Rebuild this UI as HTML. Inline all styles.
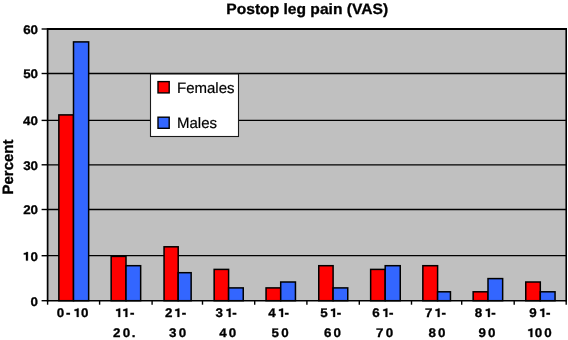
<!DOCTYPE html>
<html><head><meta charset="utf-8"><style>
html,body{margin:0;padding:0;background:#fff;}
svg{display:block;}
svg{will-change:transform;}
.one{fill:#000;stroke:#000;stroke-width:0.3px;stroke-linejoin:round;}
text{font-family:"Liberation Sans",sans-serif;fill:#000;text-rendering:geometricPrecision;}
.yl{font-size:12.5px;font-weight:bold;}
.xl{font-size:12.5px;font-weight:bold;stroke:#000;stroke-width:0.3px;}
.lg{font-size:15px;stroke:#000;stroke-width:0.2px;}
.tt{font-size:15px;font-weight:bold;stroke:#000;stroke-width:0.3px;}
.yt{font-size:15px;font-weight:bold;stroke:#000;stroke-width:0.3px;}
</style></head><body>
<svg width="568" height="340" viewBox="0 0 568 340">
<rect x="47.6" y="29.0" width="518.60" height="271.70" fill="#c0c0c0"/>
<line x1="47.6" x2="566.2" y1="255.70" y2="255.70" stroke="#000" stroke-width="1.3"/>
<line x1="47.6" x2="566.2" y1="209.50" y2="209.50" stroke="#000" stroke-width="1.3"/>
<line x1="47.6" x2="566.2" y1="164.80" y2="164.80" stroke="#000" stroke-width="1.3"/>
<line x1="47.6" x2="566.2" y1="120.40" y2="120.40" stroke="#000" stroke-width="1.3"/>
<line x1="47.6" x2="566.2" y1="73.50" y2="73.50" stroke="#000" stroke-width="1.3"/>
<rect x="58.85" y="114.90" width="14.65" height="185.80" fill="#ff0000" stroke="#000" stroke-width="1.5"/>
<rect x="73.50" y="41.90" width="15.15" height="258.80" fill="#3366ff" stroke="#000" stroke-width="1.5"/>
<rect x="111.15" y="256.40" width="14.85" height="44.30" fill="#ff0000" stroke="#000" stroke-width="1.5"/>
<rect x="126.00" y="265.70" width="14.65" height="35.00" fill="#3366ff" stroke="#000" stroke-width="1.5"/>
<rect x="164.05" y="246.80" width="14.15" height="53.90" fill="#ff0000" stroke="#000" stroke-width="1.5"/>
<rect x="178.20" y="272.70" width="12.95" height="28.00" fill="#3366ff" stroke="#000" stroke-width="1.5"/>
<rect x="214.15" y="269.40" width="14.45" height="31.30" fill="#ff0000" stroke="#000" stroke-width="1.5"/>
<rect x="228.60" y="287.90" width="14.65" height="12.80" fill="#3366ff" stroke="#000" stroke-width="1.5"/>
<rect x="266.05" y="287.90" width="14.65" height="12.80" fill="#ff0000" stroke="#000" stroke-width="1.5"/>
<rect x="280.70" y="282.00" width="14.75" height="18.70" fill="#3366ff" stroke="#000" stroke-width="1.5"/>
<rect x="318.75" y="265.70" width="14.35" height="35.00" fill="#ff0000" stroke="#000" stroke-width="1.5"/>
<rect x="333.10" y="287.90" width="14.65" height="12.80" fill="#3366ff" stroke="#000" stroke-width="1.5"/>
<rect x="370.65" y="269.40" width="14.55" height="31.30" fill="#ff0000" stroke="#000" stroke-width="1.5"/>
<rect x="385.20" y="265.70" width="15.05" height="35.00" fill="#3366ff" stroke="#000" stroke-width="1.5"/>
<rect x="422.85" y="265.70" width="14.75" height="35.00" fill="#ff0000" stroke="#000" stroke-width="1.5"/>
<rect x="437.60" y="291.80" width="12.85" height="8.90" fill="#3366ff" stroke="#000" stroke-width="1.5"/>
<rect x="473.15" y="291.80" width="14.85" height="8.90" fill="#ff0000" stroke="#000" stroke-width="1.5"/>
<rect x="488.00" y="278.60" width="14.65" height="22.10" fill="#3366ff" stroke="#000" stroke-width="1.5"/>
<rect x="525.75" y="282.00" width="14.55" height="18.70" fill="#ff0000" stroke="#000" stroke-width="1.5"/>
<rect x="540.30" y="291.80" width="14.75" height="8.90" fill="#3366ff" stroke="#000" stroke-width="1.5"/>
<line x1="47.6" x2="566.2" y1="29.0" y2="29.0" stroke="#000" stroke-width="2"/>
<line x1="47.6" x2="566.2" y1="300.7" y2="300.7" stroke="#000" stroke-width="1.6"/>
<line x1="47.6" x2="47.6" y1="28.0" y2="301.5" stroke="#000" stroke-width="1.7"/>
<line x1="566.2" x2="566.2" y1="28.0" y2="301.5" stroke="#000" stroke-width="1.6"/>
<line x1="41.6" x2="47.6" y1="300.70" y2="300.70" stroke="#000" stroke-width="1.4"/>
<line x1="41.6" x2="47.6" y1="255.70" y2="255.70" stroke="#000" stroke-width="1.4"/>
<line x1="41.6" x2="47.6" y1="209.50" y2="209.50" stroke="#000" stroke-width="1.4"/>
<line x1="41.6" x2="47.6" y1="164.80" y2="164.80" stroke="#000" stroke-width="1.4"/>
<line x1="41.6" x2="47.6" y1="120.40" y2="120.40" stroke="#000" stroke-width="1.4"/>
<line x1="41.6" x2="47.6" y1="73.50" y2="73.50" stroke="#000" stroke-width="1.4"/>
<line x1="41.6" x2="47.6" y1="29.00" y2="29.00" stroke="#000" stroke-width="1.4"/>
<line x1="47.60" x2="47.60" y1="300.7" y2="304.7" stroke="#000" stroke-width="1.4"/>
<line x1="99.60" x2="99.60" y1="300.7" y2="304.7" stroke="#000" stroke-width="1.4"/>
<line x1="152.10" x2="152.10" y1="300.7" y2="304.7" stroke="#000" stroke-width="1.4"/>
<line x1="202.50" x2="202.50" y1="300.7" y2="304.7" stroke="#000" stroke-width="1.4"/>
<line x1="254.70" x2="254.70" y1="300.7" y2="304.7" stroke="#000" stroke-width="1.4"/>
<line x1="306.90" x2="306.90" y1="300.7" y2="304.7" stroke="#000" stroke-width="1.4"/>
<line x1="359.30" x2="359.30" y1="300.7" y2="304.7" stroke="#000" stroke-width="1.4"/>
<line x1="411.50" x2="411.50" y1="300.7" y2="304.7" stroke="#000" stroke-width="1.4"/>
<line x1="461.70" x2="461.70" y1="300.7" y2="304.7" stroke="#000" stroke-width="1.4"/>
<line x1="514.20" x2="514.20" y1="300.7" y2="304.7" stroke="#000" stroke-width="1.4"/>
<line x1="566.20" x2="566.20" y1="300.7" y2="304.7" stroke="#000" stroke-width="1.4"/>
<path class="one" d="M78.65,316.90 L78.65,308.40 L77.35,308.40 L76.65,309.00 L74.55,309.50 L74.55,310.90 L76.75,310.70 L76.75,316.90Z"/>
<text transform="scale(1.07,1)" x="52.98 61.71 75.69" y="316.9" class="xl">0-0</text>
<path class="one" d="M120.20,316.90 L120.20,308.40 L118.90,308.40 L118.20,309.00 L116.10,309.50 L116.10,310.90 L118.30,310.70 L118.30,316.90Z"/>
<path class="one" d="M127.35,316.90 L127.35,308.40 L126.05,308.40 L125.35,309.00 L123.25,309.50 L123.25,310.90 L125.45,310.70 L125.45,316.90Z"/>
<text transform="scale(1.07,1)" x="121.43" y="316.9" class="xl">-</text>
<text transform="scale(1.07,1)" x="105.67 114.62 123.08" y="337.0" class="xl">20.</text>
<path class="one" d="M179.35,316.90 L179.35,308.40 L178.05,308.40 L177.35,309.00 L175.25,309.50 L175.25,310.90 L177.45,310.70 L177.45,316.90Z"/>
<text transform="scale(1.07,1)" x="154.27 169.93" y="316.9" class="xl">2-</text>
<text transform="scale(1.07,1)" x="157.87 167.09" y="337.0" class="xl">30</text>
<path class="one" d="M230.60,316.90 L230.60,308.40 L229.30,308.40 L228.60,309.00 L226.50,309.50 L226.50,310.90 L228.70,310.70 L228.70,316.90Z"/>
<text transform="scale(1.07,1)" x="201.47 217.04" y="316.9" class="xl">3-</text>
<text transform="scale(1.07,1)" x="204.87 213.82" y="337.0" class="xl">40</text>
<path class="one" d="M283.05,316.90 L283.05,308.40 L281.75,308.40 L281.05,309.00 L278.95,309.50 L278.95,310.90 L281.15,310.70 L281.15,316.90Z"/>
<text transform="scale(1.07,1)" x="250.62 266.01" y="316.9" class="xl">4-</text>
<text transform="scale(1.07,1)" x="253.70 262.89" y="337.0" class="xl">50</text>
<path class="one" d="M335.05,316.90 L335.05,308.40 L333.75,308.40 L333.05,309.00 L330.95,309.50 L330.95,310.90 L333.15,310.70 L333.15,316.90Z"/>
<text transform="scale(1.07,1)" x="299.22 314.61" y="316.9" class="xl">5-</text>
<text transform="scale(1.07,1)" x="302.83 311.58" y="337.0" class="xl">60</text>
<path class="one" d="M387.35,316.90 L387.35,308.40 L386.05,308.40 L385.35,309.00 L383.25,309.50 L383.25,310.90 L385.45,310.70 L385.45,316.90Z"/>
<text transform="scale(1.07,1)" x="347.83 363.44" y="316.9" class="xl">6-</text>
<text transform="scale(1.07,1)" x="351.44 360.41" y="337.0" class="xl">70</text>
<path class="one" d="M439.60,316.90 L439.60,308.40 L438.30,308.40 L437.60,309.00 L435.50,309.50 L435.50,310.90 L437.70,310.70 L437.70,316.90Z"/>
<text transform="scale(1.07,1)" x="397.14 412.50" y="316.9" class="xl">7-</text>
<text transform="scale(1.07,1)" x="400.40 409.29" y="337.0" class="xl">80</text>
<path class="one" d="M489.85,316.90 L489.85,308.40 L488.55,308.40 L487.85,309.00 L485.75,309.50 L485.75,310.90 L487.95,310.70 L487.95,316.90Z"/>
<text transform="scale(1.07,1)" x="443.76 459.23" y="316.9" class="xl">8-</text>
<text transform="scale(1.07,1)" x="447.24 456.02" y="337.0" class="xl">90</text>
<path class="one" d="M544.25,316.90 L544.25,308.40 L542.95,308.40 L542.25,309.00 L540.15,309.50 L540.15,310.90 L542.35,310.70 L542.35,316.90Z"/>
<text transform="scale(1.07,1)" x="494.72 510.21" y="316.9" class="xl">9-</text>
<path class="one" d="M532.35,337.00 L532.35,328.50 L531.05,328.50 L530.35,329.10 L528.25,329.60 L528.25,331.00 L530.45,330.80 L530.45,337.00Z"/>
<text transform="scale(1.07,1)" x="499.76 508.59" y="337.0" class="xl">00</text>
<text transform="scale(1.07,1)" x="28.61" y="305.6" class="xl">0</text>
<path class="one" d="M27.90,260.60 L27.90,252.10 L26.60,252.10 L25.90,252.70 L23.80,253.20 L23.80,254.60 L26.00,254.40 L26.00,260.60Z"/>
<text transform="scale(1.07,1)" x="28.61" y="260.6" class="xl">0</text>
<text transform="scale(1.07,1)" x="21.68 28.61" y="214.4" class="xl">20</text>
<text transform="scale(1.07,1)" x="21.73 28.61" y="169.7" class="xl">30</text>
<text transform="scale(1.07,1)" x="21.59 28.61" y="125.3" class="xl">40</text>
<text transform="scale(1.07,1)" x="21.63 28.61" y="78.4" class="xl">50</text>
<text transform="scale(1.07,1)" x="21.65 28.61" y="33.9" class="xl">60</text>
<rect x="150.5" y="74" width="88" height="62.5" fill="#fff" stroke="#1a1a1a" stroke-width="1.1"/>
<rect x="158.0" y="81.6" width="11.2" height="11.3" fill="#ff0000" stroke="#000" stroke-width="1.4"/>
<rect x="158.0" y="117.2" width="11.2" height="11.1" fill="#3366ff" stroke="#000" stroke-width="1.4"/>
<text x="177" y="92.8" class="lg">Females</text>
<text x="177" y="128.1" class="lg">Males</text>
<text transform="scale(1.04,1)" x="295.38" y="14.0" text-anchor="middle" class="tt">Postop leg pain (VAS)</text>
<text transform="translate(13.3,167) rotate(-90)" text-anchor="middle" class="yt">Percent</text>
</svg>
</body></html>
